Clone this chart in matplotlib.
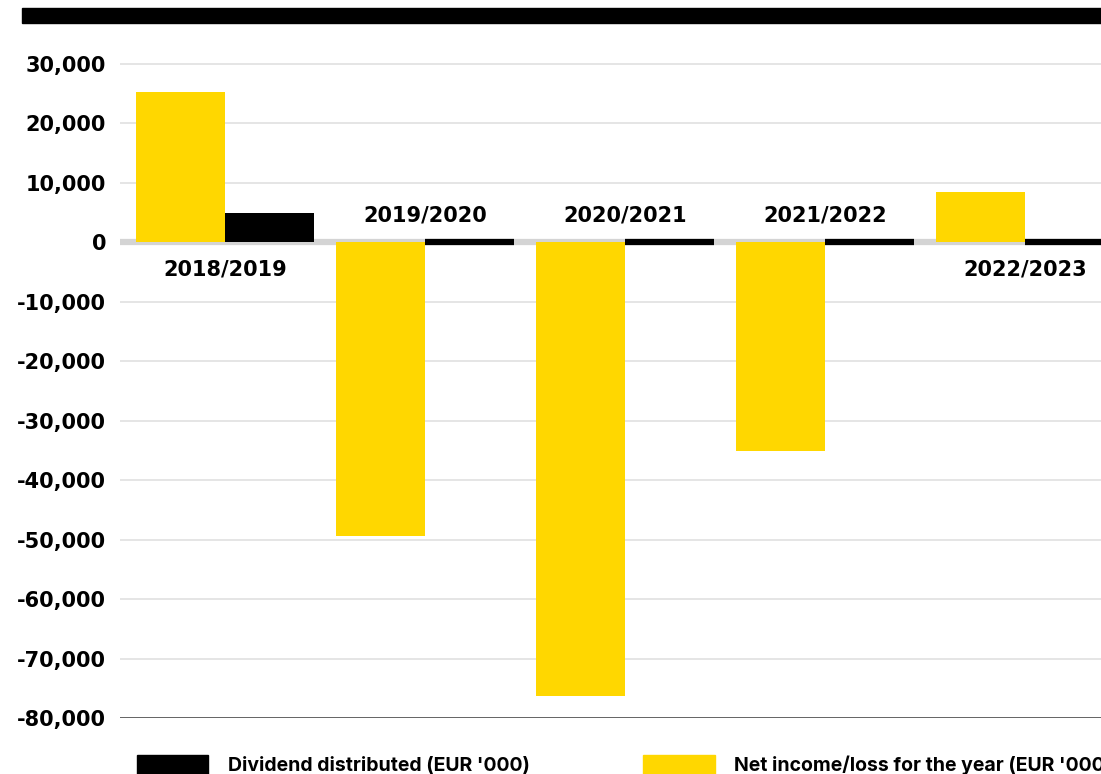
import matplotlib
matplotlib.use("Agg")
import matplotlib.pyplot as plt
from matplotlib.patches import Rectangle
import numpy as np

categories = ["2018/2019", "2019/2020", "2020/2021", "2021/2022", "2022/2023"]
net_income = [25300, -49400, -76300, -35100, 8400]
dividend = [4900, 0, 0, 0, 0]
yticks = [30000, 20000, 10000, 0, -10000, -20000, -30000, -40000, -50000, -60000, -70000, -80000]

YELLOW = "#FFD700"
FONT = "DejaVu Sans"
LFONT = "Inter"

W, H = 1101, 774
fig = plt.figure(figsize=(W / 100, H / 100), dpi=100)
y_top_px, y_bot_px = 40, 718
ax = fig.add_axes([120 / W, 1 - y_bot_px / H, (W - 120) / W, (y_bot_px - y_top_px) / H])
px_per_unit = (718 - 64) / 110000
ymax = 30000 + (64 - y_top_px) / px_per_unit
ax.set_ylim(-80000, ymax)
ax.set_xlim(-0.525, 4.38)

x = np.arange(len(categories))
bw = 0.445
ax.bar(x - bw / 2, net_income, width=bw, color=YELLOW, zorder=3)
ax.bar(x + bw / 2, dividend, width=bw, color="black", edgecolor="black",
       linewidth=[0 if d else 4.5 for d in dividend], zorder=3)

for t in yticks:
    if t == 0:
        ax.axhline(0, color="#d4d4d4", linewidth=4.5, zorder=2)
    elif t == -80000:
        pass
    else:
        ax.axhline(t, color="#e3e3e3", linewidth=1.3, zorder=1)
ax.axhline(-80000, color="#555555", linewidth=2.0, zorder=2)

for s in ax.spines.values():
    s.set_visible(False)
ax.set_xticks([])
ax.set_yticks(yticks)
ax.set_yticklabels([f"{t:,}" for t in yticks], fontsize=15, fontweight="bold", family=FONT)
ax.tick_params(axis="y", length=0, pad=10)

for xi, v, lab in zip(x, net_income, categories):
    if v >= 0:
        ax.annotate(lab, (xi, 0), xytext=(0, -12), textcoords="offset points",
                    ha="center", va="top", fontsize=15, fontweight="bold", family=FONT)
    else:
        ax.annotate(lab, (xi, 0), xytext=(0, 12), textcoords="offset points",
                    ha="center", va="bottom", fontsize=15, fontweight="bold", family=FONT)

# top black band
fig.patches.append(Rectangle((22 / W, 1 - 23 / H), (W - 22) / W, 15 / H,
                             transform=fig.transFigure, color="black"))

# legend
fig.patches.append(Rectangle((137 / W, 0), 71 / W, 19 / H, transform=fig.transFigure, color="black"))
fig.text(228 / W, 3 / H, "Dividend distributed (EUR '000)", fontsize=14, fontweight="bold",
         family=LFONT, va="baseline", ha="left")
fig.patches.append(Rectangle((643 / W, 0), 72 / W, 19 / H, transform=fig.transFigure, color=YELLOW))
fig.text(734 / W, 3 / H, "Net income/loss for the year (EUR '000)", fontsize=14, fontweight="bold",
         family=LFONT, va="baseline", ha="left")

fig.savefig("out.png", dpi=100)
